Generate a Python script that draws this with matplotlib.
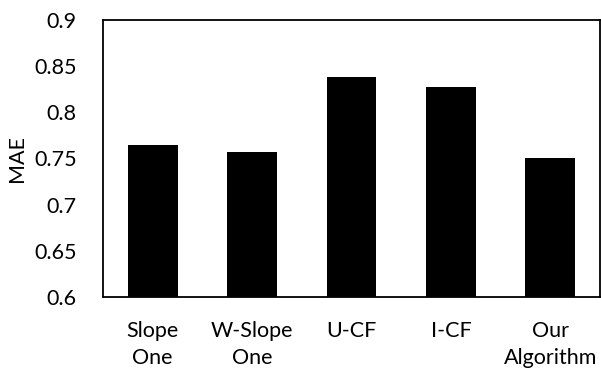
import matplotlib
matplotlib.use("Agg")
import matplotlib.pyplot as plt

categories = ["Slope\nOne", "W-Slope\nOne", "U-CF", "I-CF", "Our\nAlgorithm"]
mae = [0.765, 0.757, 0.838, 0.827, 0.750]
yticks = [0.6, 0.65, 0.7, 0.75, 0.8, 0.85, 0.9]
ytick_labels = ["0.6", "0.65", "0.7", "0.75", "0.8", "0.85", "0.9"]

plt.rcParams['font.family'] = ['Lato', 'DejaVu Sans']
FS = 15.5

fig = plt.figure(figsize=(6.01, 3.71), dpi=100)
ax = fig.add_axes([103/601, 1 - 297/371, 497/601, 277/371])
x = list(range(len(categories)))
ax.bar(x, mae, width=0.5, color="black")
ax.set_xlim(-0.5, len(categories) - 0.5)
ax.set_ylim(0.6, 0.9)
ax.set_yticks(yticks)
ax.set_yticklabels(ytick_labels, fontsize=FS)
ax.set_xticks(x)
ax.set_xticklabels(categories, fontsize=FS, linespacing=1.45)
ax.tick_params(axis='y', length=0, pad=19)
ax.tick_params(axis='x', length=0, pad=17)
for s in ax.spines.values():
    s.set_linewidth(1.3)
    s.set_color("black")
ax.set_ylabel("MAE", fontsize=FS, labelpad=5)
fig.savefig("out.png", dpi=100)
